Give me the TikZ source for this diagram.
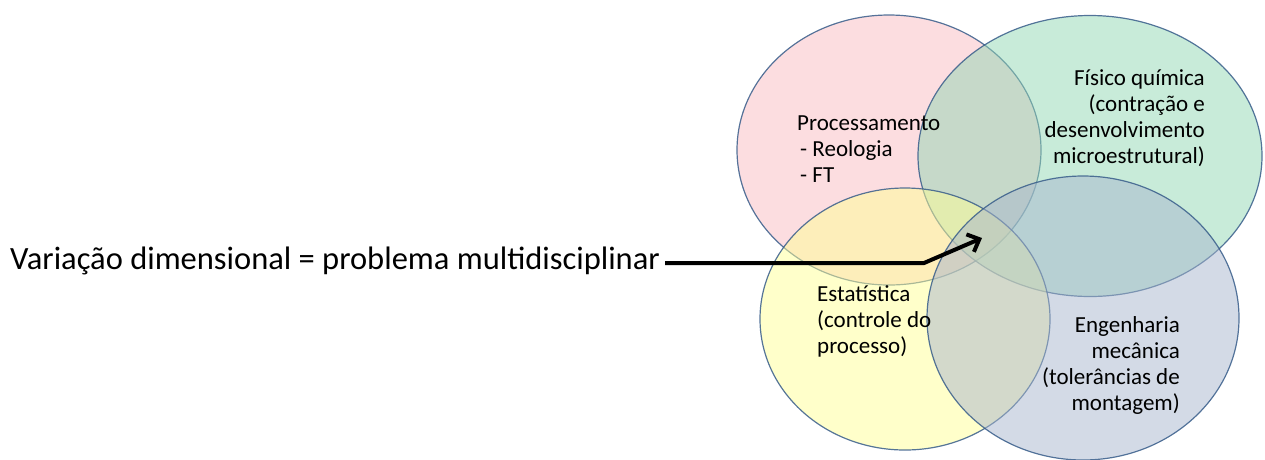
\documentclass[tikz,border=0pt]{standalone}
\usepackage{fontspec}
\setmainfont{Carlito}
\usetikzlibrary{shapes.geometric,arrows.meta,positioning}

\definecolor{procfill}{RGB}{249,187,193}
\definecolor{fisfill}{RGB}{145,215,179}
\definecolor{estfill}{RGB}{255,255,150}
\definecolor{engfill}{RGB}{167,181,205}
\definecolor{rimblue}{RGB}{56,93,138}

\begin{document}
\begin{tikzpicture}[
    x=1pt, y=-1pt,
    area/.style={ellipse, draw=rimblue, line width=1.2pt, fill opacity=0.5, draw opacity=0.85, inner sep=0pt},
    lbl/.style={font=\fontsize{23}{26}\selectfont, inner sep=0pt},
    arrow/.style={-{Straight Barb[length=10pt,width=19pt]}, line width=4pt},
]
    \useasboundingbox (0,0) rectangle (1265,459);

    \node[area, fill=procfill, minimum width=304pt, minimum height=270pt] (proc) at (889,150) {};
    \node[area, fill=fisfill, minimum width=344pt, minimum height=281pt] (fis) at (1090,156) {};
    \node[area, fill=estfill, minimum width=290pt, minimum height=262pt] (est) at (905,319) {};
    \node[area, fill=engfill, minimum width=312pt, minimum height=284pt] (eng) at (1083,318) {};

    \node[lbl, align=left, anchor=north west] (proctxt) at (797,116) {Processamento\\\hspace*{3pt}- Reologia\\\hspace*{3pt}- FT};
    \node[lbl, align=right, anchor=north east] (fistxt) at (1205,69) {Físico química\\(contração e\\desenvolvimento\\microestrutural)};
    \node[lbl, align=left, anchor=north west] (esttxt) at (817,285) {Estatística\\(controle do\\processo)};
    \node[lbl, align=right, anchor=north east] (engtxt) at (1180,316) {Engenharia\\mecânica\\(tolerâncias de\\montagem)};

    \node[font=\fontsize{32.5}{38}\selectfont, inner sep=0pt, anchor=base west] (main) at (10,269) {Variação dimensional = problema multidisciplinar};

    \coordinate (bend) at (924,263);
    \coordinate (core) at (982,238);
    \draw[arrow] ([xshift=5pt]main.east |- bend) -- (bend) -- (core);
\end{tikzpicture}
\end{document}
